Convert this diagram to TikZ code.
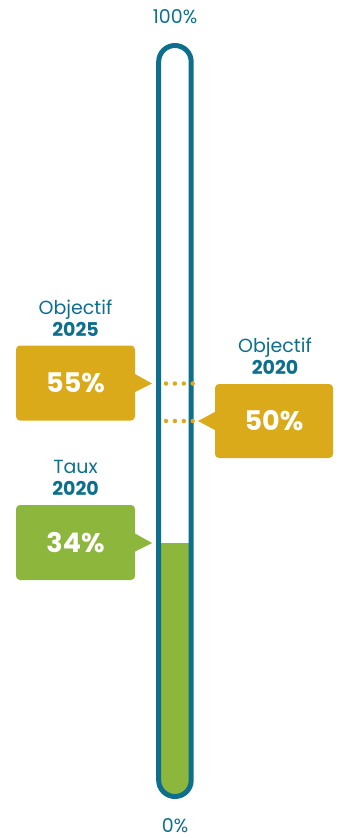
\documentclass[tikz,border=0pt]{standalone}
\usepackage{fontspec}
\setmainfont{Poppins}
\definecolor{tealblue}{RGB}{13,111,142}
\definecolor{goldbox}{RGB}{219,170,26}
\definecolor{greenbox}{RGB}{141,182,61}
\begin{document}
\begin{tikzpicture}[x=1pt,y=-1pt,
    valbox/.style={rectangle,rounded corners=4pt,minimum width=119pt,
      minimum height=75pt,text=white,
      font=\fontsize{27}{30}\selectfont\bfseries},
    caption/.style={align=center,text=tealblue,
      font=\fontsize{19}{21.5}\selectfont},
    scale label/.style={text=tealblue,inner sep=0pt,
      font=\fontsize{19}{20}\selectfont},
    tube/.style={draw=tealblue,line width=5pt,rounded corners=16.2pt},
    marker/.style={goldbox,line width=4.5pt,line cap=round,
      dash pattern=on 0pt off 8.9pt}]
  \useasboundingbox (0,0) rectangle (342,838);
  % gauge
  \begin{scope}
    \clip[rounded corners=16.2pt] (158.7,45.5) rectangle (191.2,796.5);
    \fill[greenbox] (150,543) rectangle (200,800);
  \end{scope}
  \draw[tube] (158.7,45.5) rectangle (191.2,796.5);
  \node[scale label] (top) at (175,17) {100\%};
  \node[scale label] (bottom) at (175,826) {0\%};
  % target markers
  \coordinate (m55a) at (166,383.5);
  \coordinate (m55b) at (193,383.5);
  \coordinate (m50a) at (166,421);
  \coordinate (m50b) at (193,421);
  \draw[marker] (m55a) -- (m55b);
  \draw[marker] (m50a) -- (m50b);
  % boxes
  \node[valbox,fill=goldbox] (box55) at (75.5,383) {55\%};
  \node[valbox,fill=goldbox,minimum width=118pt,minimum height=74pt]
    (box50) at (274,421) {50\%};
  \node[valbox,fill=greenbox] (box34) at (75.5,542.5) {34\%};
  \coordinate (tip55) at (152,383.5);
  \coordinate (tip50) at (198,421);
  \coordinate (tip34) at (152,543);
  \fill[goldbox] ([xshift=-2pt,yshift=10pt]box55.east) -- (tip55)
    -- ([xshift=-2pt,yshift=-10pt]box55.east) -- cycle;
  \fill[goldbox] ([xshift=2pt,yshift=10pt]box50.west) -- (tip50)
    -- ([xshift=2pt,yshift=-10pt]box50.west) -- cycle;
  \fill[greenbox] ([xshift=-2pt,yshift=10pt]box34.east) -- (tip34)
    -- ([xshift=-2pt,yshift=-10pt]box34.east) -- cycle;
  % captions
  \node[caption] (cap55) at (75.5,318) {Objectif\\\textbf{2025}};
  \node[caption] (cap50) at (275,356) {Objectif\\\textbf{2020}};
  \node[caption] (cap34) at (75.5,478) {Taux\\\textbf{2020}};
\end{tikzpicture}
\end{document}
